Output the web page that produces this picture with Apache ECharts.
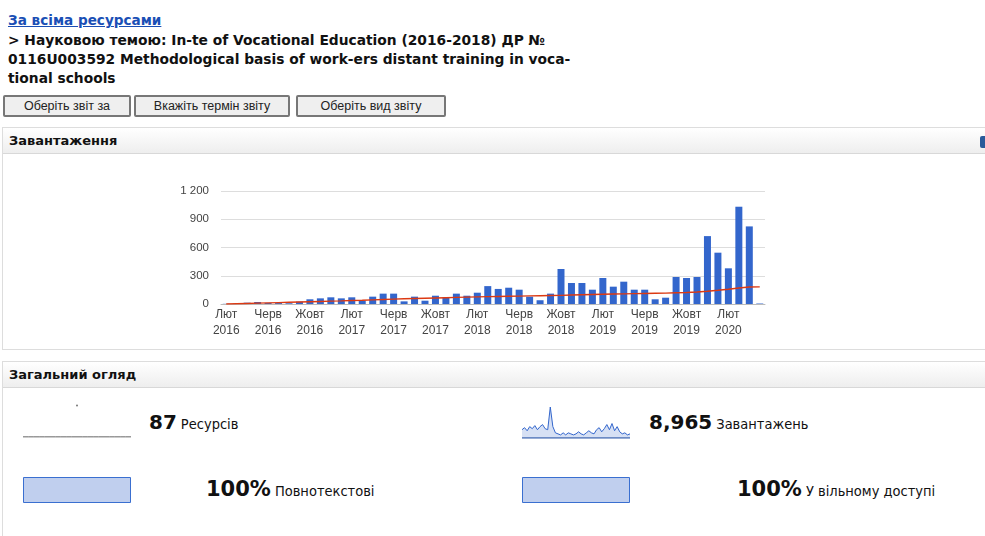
<!DOCTYPE html>
<html><head><meta charset="utf-8">
<script src="https://cdn.jsdelivr.net/npm/echarts@6/dist/echarts.min.js"></script>
<style>
html,body{margin:0;padding:0;width:985px;height:536px;overflow:hidden;background:#fff;}
.abs{position:absolute;}
.v{font-family:"DejaVu Sans",Verdana,sans-serif;}
.a{font-family:"Liberation Sans",Arial,sans-serif;}
#link{left:8px;top:12px;font-size:13.6px;font-weight:bold;color:#1a4fb5;text-decoration:underline;}
#title{left:8px;top:31px;font-size:13.8px;font-weight:bold;color:#111;line-height:19px;white-space:pre;}
.btn{top:95px;height:18px;border:2px solid #777;border-radius:2px;background:#efefef;font-size:12.5px;color:#222;text-align:center;line-height:18px;}
.panel{left:2px;width:1000px;border:1px solid #ddd;}
.hdr{position:absolute;left:0;top:0;width:100%;height:25px;background:linear-gradient(#ffffff,#eeeeee);border-bottom:1px solid #d8d8d8;}
.hdr span{position:absolute;left:6px;top:5px;font-size:13px;font-weight:bold;color:#111;}
.big{font-size:20px;font-weight:bold;color:#111;}
.big2{font-size:21px;font-weight:bold;color:#111;}
.small{font-size:14.5px;color:#111;font-family:"DejaVu Sans Condensed","DejaVu Sans",sans-serif;}
</style></head>
<body>
<div id="link" class="abs v">За всіма ресурсами</div>
<div id="title" class="abs v">&gt; Науковою темою: In-te of Vocational Education (2016-2018) ДР №
0116U003592 Methodological basis of work-ers distant training in voca-
tional schools</div>
<div class="abs btn a" style="left:3px;width:124px;">Оберіть звіт за</div>
<div class="abs btn a" style="left:134px;width:152px;">Вкажіть термін звіту</div>
<div class="abs btn a" style="left:296px;width:146px;">Оберіть вид звіту</div>

<div class="abs panel" style="top:127px;height:221px;">
  <div class="hdr"><span class="v">Завантаження</span></div>
</div>
<div class="abs" style="left:980px;top:136px;width:8px;height:12px;background:#2a5a9a;border-radius:2px;"></div>
<div class="abs panel" style="top:361px;height:200px;">
  <div class="hdr"><span class="v">Загальний огляд</span></div>
</div>

<div id="main" class="abs" style="left:0;top:150px;width:985px;height:200px;"></div>

<div id="sp1" class="abs" style="left:20px;top:400px;width:114px;height:40px;"></div>
<div id="sp2" class="abs" style="left:520px;top:405px;width:112px;height:35px;"></div>
<div id="bar1" class="abs" style="left:20px;top:474px;width:114px;height:32px;"></div>
<div id="bar2" class="abs" style="left:519px;top:474px;width:114px;height:32px;"></div>

<div class="abs" style="left:149px;top:410px;"><span class="big v">87</span> <span class="small">Ресурсів</span></div>
<div class="abs" style="left:649px;top:410px;"><span class="big v">8,965</span> <span class="small">Завантажень</span></div>
<div class="abs" style="left:206px;top:477px;"><span class="big2 v">100%</span> <span class="small">Повнотекстові</span></div>
<div class="abs" style="left:737px;top:477px;"><span class="big2 v">100%</span> <span class="small">У вільному доступі</span></div>

<script>
var monthNames = ['Лют','Берез','Квіт','Трав','Черв','Лип','Серп','Вер','Жовт','Лист','Груд','Січ'];
var startYear = 2016;
var months = [];
(function(){
  var y = startYear;
  for (var i = 0; i < 52; i++) {
    var m = monthNames[i % 12];
    if (m === 'Лют' && i > 0) y++;
    months.push(m + '\n' + y);
  }
})();
var downloads = [2,3,14,21,12,10,8,25,50,60,71,
  60,71,35,78,110,110,28,78,35,88,71,110,
  88,120,190,160,173,152,78,40,110,372,223,223,
  152,276,184,237,152,152,50,67,287,276,287,721,
  545,379,1033,824,5];
var trend = [0,3,6,9,12,15,18,21,24,27,30,
  33,37,40,44,48,52,55,58,61,64,67,70,
  73,76,78,80,82,84,86,88,90,92,95,98,
  101,104,106,108,110,112,114,116,119,122,128,136,
  146,157,170,180,182];
var yTicks = [0,300,600,900,1200];
var resourceLine = [0,0,0,0,0,0,0,0,0,0,0,0,0,0,0,0,0,0,0,0,0];
var resourcePoint = [[10,18]];
var downloadSpark = [8,10,7,11,9,12,8,11,13,9,8,30,11,5,4,3,5,3,5,4,3,4,6,4,3,5,7,5,4,8,10,6,9,13,8,14,7,11,6,4,5,3,4];
var pctFull = [100];
var pctOpen = [100];

var chart = echarts.init(document.getElementById('main'));
chart.setOption({
  animation:false,
  grid:{left:221,right:220,top:41,bottom:46},
  xAxis:{type:'category',data:months,
    axisLine:{show:true,lineStyle:{color:'#bbb'}},axisTick:{show:false},
    axisLabel:{interval:3,color:'#444',fontSize:12,fontFamily:'Liberation Sans',lineHeight:16,margin:3}},
  yAxis:{type:'value',min:0,max:1200,interval:300,
    axisLine:{show:false},axisTick:{show:false},
    splitLine:{lineStyle:{color:'#ddd'}},
    axisLabel:{color:'#444',fontSize:11.5,fontFamily:'Liberation Sans',margin:12,
      formatter:function(v){return yTicks.indexOf(v)>=0 ? String(v).replace(/\B(?=(\d{3})+(?!\d))/g,' ') : '';}}},
  series:[
    {type:'bar',data:downloads,barWidth:7,itemStyle:{color:'#3366cc'}},
    {type:'line',data:trend,showSymbol:false,lineStyle:{color:'#dc3912',width:1.4},itemStyle:{color:'#dc3912'}}
  ]
});

var sp1 = echarts.init(document.getElementById('sp1'));
sp1.setOption({animation:false,grid:{left:3,right:3,top:2,bottom:3},
  xAxis:{type:'value',min:0,max:20,show:false},
  yAxis:{type:'value',min:0,max:20,show:false},
  series:[
    {type:'line',data:resourceLine.map(function(v,i){return [i,v];}),showSymbol:false,lineStyle:{color:'#333',width:1}},
    {type:'scatter',data:resourcePoint,symbolSize:2,itemStyle:{color:'#555'}}
  ]});

var sp2 = echarts.init(document.getElementById('sp2'));
sp2.setOption({animation:false,grid:{left:2,right:2,top:2,bottom:2},
  xAxis:{type:'category',data:downloadSpark.map(function(v,i){return i;}),show:false,boundaryGap:false},
  yAxis:{type:'value',min:0,max:30,show:false},
  series:[{type:'line',data:downloadSpark,showSymbol:false,lineStyle:{color:'#3366cc',width:1},
    areaStyle:{color:'#c5d3f0'}},
    {type:'line',data:downloadSpark.map(function(){return 0;}),showSymbol:false,lineStyle:{color:'#4a6fb5',width:1.5}}]});

function pctBar(id,vals){
  var c = echarts.init(document.getElementById(id));
  c.setOption({animation:false,grid:{left:3,right:3,top:3,bottom:3},
    xAxis:{type:'value',min:0,max:100,show:false},
    yAxis:{type:'category',data:[''],show:false},
    series:[{type:'bar',data:vals,barWidth:26,itemStyle:{color:'#c0cfee',borderColor:'#3a6fd0',borderWidth:1}}]});
}
pctBar('bar1',pctFull);
pctBar('bar2',pctOpen);
</script>
</body></html>
